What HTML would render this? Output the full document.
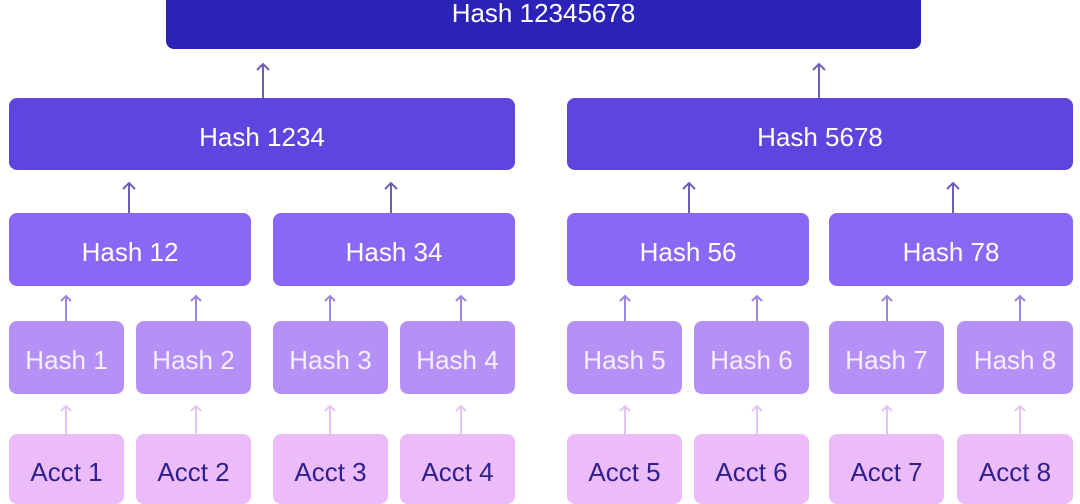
<!DOCTYPE html>
<html><head><style>
body{margin:0;width:1080px;height:487px;background:#fff;position:relative;overflow:hidden;font-family:"Liberation Sans",sans-serif}
.b{position:absolute;border-radius:8px;color:#fff;display:flex;align-items:center;justify-content:center;font-size:26px;padding-top:6px;box-sizing:border-box}
.l1{background:#2b22b8}.l2{background:#5e45e0}.l3{background:#8a68f5}.l4{background:#b590f6;color:#f6efff}.l5{background:#ebbcf9;color:#2e1f8c;align-items:flex-start;padding-top:23px}
svg{position:absolute;left:0;top:0}
</style></head><body>
<div class="b l1" style="left:166px;top:-10px;width:755px;height:59px;padding-top:0;align-items:flex-start;padding-top:8px">Hash 12345678</div>
<div class="b l2" style="left:9px;top:98px;width:506px;height:72px">Hash 1234</div>
<div class="b l2" style="left:567px;top:98px;width:506px;height:72px">Hash 5678</div>
<div class="b l3" style="left:9px;top:213px;width:242px;height:73px">Hash 12</div>
<div class="b l3" style="left:273px;top:213px;width:242px;height:73px">Hash 34</div>
<div class="b l3" style="left:567px;top:213px;width:242px;height:73px">Hash 56</div>
<div class="b l3" style="left:829px;top:213px;width:244px;height:73px">Hash 78</div>
<div class="b l4" style="left:9px;top:321px;width:115px;height:73px">Hash 1</div>
<div class="b l4" style="left:136px;top:321px;width:115px;height:73px">Hash 2</div>
<div class="b l4" style="left:273px;top:321px;width:115px;height:73px">Hash 3</div>
<div class="b l4" style="left:400px;top:321px;width:115px;height:73px">Hash 4</div>
<div class="b l4" style="left:567px;top:321px;width:115px;height:73px">Hash 5</div>
<div class="b l4" style="left:694px;top:321px;width:115px;height:73px">Hash 6</div>
<div class="b l4" style="left:829px;top:321px;width:115px;height:73px">Hash 7</div>
<div class="b l4" style="left:957px;top:321px;width:116px;height:73px">Hash 8</div>
<div class="b l5" style="left:9px;top:434px;width:115px;height:70px">Acct 1</div>
<div class="b l5" style="left:136px;top:434px;width:115px;height:70px">Acct 2</div>
<div class="b l5" style="left:273px;top:434px;width:115px;height:70px">Acct 3</div>
<div class="b l5" style="left:400px;top:434px;width:115px;height:70px">Acct 4</div>
<div class="b l5" style="left:567px;top:434px;width:115px;height:70px">Acct 5</div>
<div class="b l5" style="left:694px;top:434px;width:115px;height:70px">Acct 6</div>
<div class="b l5" style="left:829px;top:434px;width:115px;height:70px">Acct 7</div>
<div class="b l5" style="left:957px;top:434px;width:116px;height:70px">Acct 8</div>
<svg width="1080" height="487" fill="none" stroke-width="2">
<g stroke="#6a5fb8">
<path d="M263 98V64M257 70l6-6 6 6M819 98V64M813 70l6-6 6 6"/>
<path d="M129 213V183M123 189l6-6 6 6M391 213V183M385 189l6-6 6 6M689 213V183M683 189l6-6 6 6M953 213V183M947 189l6-6 6 6"/>
</g>
<g stroke="#9a86dc">
<path d="M66 321V296M61 301l5-5 5 5M196 321V296M191 301l5-5 5 5M330 321V296M325 301l5-5 5 5M461 321V296M456 301l5-5 5 5M625 321V296M620 301l5-5 5 5M757 321V296M752 301l5-5 5 5M887 321V296M882 301l5-5 5 5M1020 321V296M1015 301l5-5 5 5"/>
</g>
<g stroke="#e2c6f2">
<path d="M66 434V406M61 411l5-5 5 5M196 434V406M191 411l5-5 5 5M330 434V406M325 411l5-5 5 5M461 434V406M456 411l5-5 5 5M625 434V406M620 411l5-5 5 5M757 434V406M752 411l5-5 5 5M887 434V406M882 411l5-5 5 5M1020 434V406M1015 411l5-5 5 5"/>
</g>
</svg>
</body></html>
